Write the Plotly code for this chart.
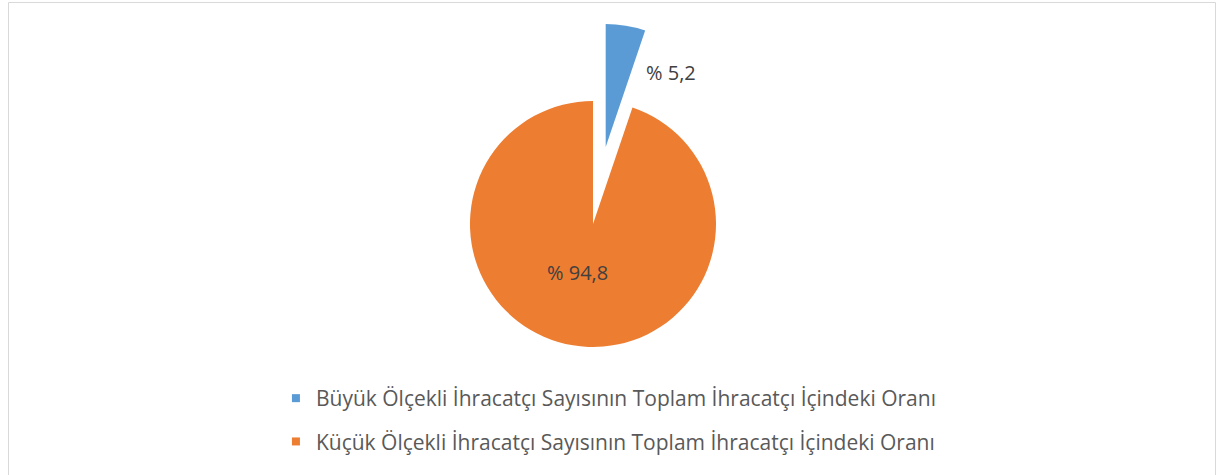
import plotly.graph_objects as go

labels = [
    "Büyük Ölçekli İhracatçı Sayısının Toplam İhracatçı İçindeki Oranı",
    "Küçük Ölçekli İhracatçı Sayısının Toplam İhracatçı İçindeki Oranı",
]
values = [5.2, 94.8]
colors = ["#5B9BD5", "#ED7D31"]
pulls = [0.634, 0.0]

FONT = "Open Sans"

W, H = 1224, 475

def px_x(x):
    return x / W

def px_y(y):
    return 1 - y / H

fig = go.Figure()

fig.add_trace(go.Pie(
    labels=labels,
    values=values,
    sort=False,
    direction="clockwise",
    rotation=0,
    pull=pulls,
    marker=dict(colors=colors, line=dict(width=0)),
    textinfo="none",
    hoverinfo="label+percent",
    showlegend=False,
    domain=dict(x=[px_x(392), px_x(794)], y=[px_y(425), px_y(23)]),
))

# legend entries
for i, (lab, col) in enumerate(zip(labels, colors)):
    fig.add_trace(go.Scatter(
        x=[None], y=[None], mode="markers",
        marker=dict(symbol="square", size=8, color=col),
        name=lab, legendgroup=f"g{i}", showlegend=True,
    ))

label_pos = [(671, 73), (577, 272)]
for v, (lx, ly) in zip(values, label_pos):
    fig.add_annotation(
        x=px_x(lx), y=px_y(ly), xref="paper", yref="paper",
        text=("% " + f"{v:.1f}".replace(".", ",")),
        showarrow=False, xanchor="center", yanchor="middle",
        font=dict(family=FONT, size=20, color="#404040"),
    )

fig.add_shape(
    type="rect", xref="paper", yref="paper",
    x0=px_x(8.5), x1=px_x(1215.5), y0=-0.1, y1=px_y(2.5),
    line=dict(color="#D9D9D9", width=1), fillcolor="rgba(0,0,0,0)",
)

fig.update_layout(
    width=W, height=H,
    margin=dict(l=0, r=0, t=0, b=0),
    paper_bgcolor="white", plot_bgcolor="white",
    xaxis=dict(visible=False), yaxis=dict(visible=False),
    legend=dict(
        x=0.4975, xanchor="center", y=px_y(378), yanchor="top",
        orientation="v", itemsizing="trace", tracegroupgap=13,
        font=dict(family=FONT, size=21, color="#595959"),
        bgcolor="rgba(0,0,0,0)",
    ),
    font=dict(family=FONT),
)

fig.write_html(
    "out.html",
    config={"displayModeBar": False},
    post_script="document.body.style.margin='0';",
)
